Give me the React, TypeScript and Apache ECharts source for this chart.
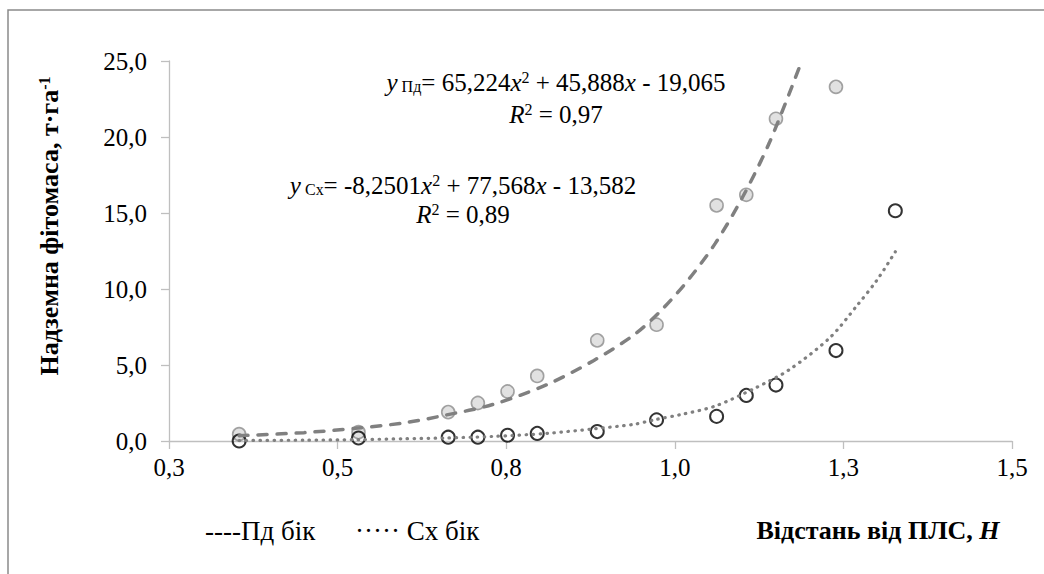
import React, { useEffect, useRef } from "react";
import * as echarts from "echarts";

// ---- data ----
const xTickLabels = ["0,3", "0,5", "0,8", "1,0", "1,3", "1,5"];
const yTickLabels = ["0,0", "5,0", "10,0", "15,0", "20,0", "25,0"];

const pdX = [0.354, 0.531, 0.664, 0.708, 0.752, 0.796, 0.885, 0.973, 1.062, 1.106, 1.15, 1.239];
const pdY = [0.45, 0.58, 1.9, 2.5, 3.26, 4.28, 6.62, 7.65, 15.5, 16.2, 21.2, 23.3];

const sxX = [0.354, 0.531, 0.664, 0.708, 0.752, 0.796, 0.885, 0.973, 1.062, 1.106, 1.15, 1.239, 1.327];
const sxY = [0.0, 0.2, 0.25, 0.25, 0.38, 0.5, 0.62, 1.39, 1.62, 3.0, 3.68, 5.95, 15.15];

// trend curves
const trendPdX = [0.354, 0.45, 0.53, 0.6, 0.66, 0.73, 0.81, 0.88, 0.94, 0.98, 1.02, 1.06, 1.1, 1.14, 1.184];
const trendPdY = [0.35, 0.55, 0.85, 1.2, 1.7, 2.4, 3.7, 5.3, 7.0, 8.6, 10.6, 13.0, 16.0, 19.6, 24.5];

const trendSxX = [0.354, 0.45, 0.53, 0.6, 0.66, 0.73, 0.81, 0.88, 0.94, 0.97, 1.01, 1.06, 1.12, 1.17, 1.23, 1.27, 1.3, 1.327];
const trendSxY = [0.03, 0.055, 0.09, 0.15, 0.2, 0.3, 0.5, 0.8, 1.1, 1.4, 1.75, 2.3, 3.5, 4.7, 6.8, 8.9, 10.6, 12.45];

const eqPd = { coef: "65,224", lin: "45,888", c: "19,065", sign1: "+", sub: "Пд", r2: "0,97" };
const eqSx = { coef: "-8,2501", lin: "77,568", c: "13,582", sign1: "+", sub: "Сх", r2: "0,89" };

const FONT = "Liberation Serif, Times New Roman, Tinos, DejaVu Serif, serif";

const zip = (xs: number[], ys: number[]) => xs.map((x, i) => [x, ys[i]]);

function eqRich(e: typeof eqPd) {
  return `{i|y}{sub| ${e.sub}}{n|= ${e.coef}}{i|x}{sup|2}{n| ${e.sign1} ${e.lin}}{i|x}{n| - ${e.c}}`;
}

export default function App() {
  const ref = useRef<HTMLDivElement>(null);
  useEffect(() => {
    if (!ref.current) return;
    const chart = echarts.init(ref.current, undefined, { renderer: "svg" });
    const EQ = 25;
    const eqStyleRich = {
      n: { fontFamily: FONT, fontSize: EQ, fontWeight: "normal", color: "#000", verticalAlign: "bottom" },
      i: { fontFamily: FONT, fontSize: EQ, fontWeight: "normal", fontStyle: "italic", color: "#000", verticalAlign: "bottom" },
      sub: { fontFamily: FONT, fontSize: 16, fontWeight: "normal", color: "#000", verticalAlign: "bottom" },
      sup: { fontFamily: FONT, fontSize: 16, fontWeight: "normal", color: "#000", verticalAlign: "top" },
    };
    const r2Rich = {
      i: { fontFamily: FONT, fontSize: EQ, fontWeight: "normal", fontStyle: "italic", color: "#000", verticalAlign: "bottom" },
      sup: { fontFamily: FONT, fontSize: 16, fontWeight: "normal", color: "#000", verticalAlign: "top" },
      n: { fontFamily: FONT, fontSize: EQ, fontWeight: "normal", color: "#000", verticalAlign: "bottom" },
    };
    chart.setOption({
      animation: false,
      backgroundColor: "#fff",
      textStyle: { fontFamily: FONT },
      grid: { left: 169, right: 32, top: 61, bottom: 133, containLabel: false },
      xAxis: {
        type: "value",
        min: 0.25,
        max: 1.5,
        interval: 0.25,
        splitLine: { show: false },
        axisLine: { show: true, lineStyle: { color: "#bfbfbf", width: 1.3 } },
        axisTick: { show: true, length: 8, lineStyle: { color: "#bfbfbf", width: 1.3 } },
        axisLabel: {
          margin: 14,
          color: "#000",
          fontFamily: FONT,
          fontWeight: "normal",
          fontSize: 25,
          formatter: (v: number) => xTickLabels[Math.round((v - 0.25) / 0.25)] ?? "",
        },
      },
      yAxis: {
        type: "value",
        min: 0,
        max: 25,
        interval: 5,
        splitLine: { show: false },
        axisLine: { show: true, lineStyle: { color: "#bfbfbf", width: 1.3 } },
        axisTick: { show: true, length: 8, lineStyle: { color: "#bfbfbf", width: 1.3 } },
        axisLabel: {
          margin: 22,
          color: "#000",
          fontFamily: FONT,
          fontWeight: "normal",
          fontSize: 25,
          formatter: (v: number) => yTickLabels[Math.round(v / 5)] ?? "",
        },
      },
      series: [
        {
          name: "Пд бік",
          type: "scatter",
          data: zip(pdX, pdY),
          symbol: "circle",
          symbolSize: 13,
          itemStyle: { color: "#d9d9d9", borderColor: "#8c8c8c", borderWidth: 1.6 },
          z: 2,
        },
        {
          name: "Сх бік",
          type: "scatter",
          data: zip(sxX, sxY),
          symbol: "circle",
          symbolSize: 13,
          itemStyle: { color: "rgba(0,0,0,0)", borderColor: "#000", borderWidth: 2 },
          z: 2,
        },
        {
          name: "trend Пд",
          type: "line",
          data: zip(trendPdX, trendPdY),
          showSymbol: false,
          smooth: 0.3,
          lineStyle: { color: "#808080", width: 3.5, type: [9, 10], cap: "round" },
          z: 3,
        },
        {
          name: "trend Сх",
          type: "line",
          data: zip(trendSxX, trendSxY),
          showSymbol: false,
          smooth: 0.3,
          lineStyle: { color: "#808080", width: 3.2, type: [0.5, 6.5], cap: "round" },
          z: 3,
        },
      ],
      graphic: [
        {
          type: "rect",
          shape: { x: 8, y: 10, width: 1100, height: 600 },
          style: { fill: "none", stroke: "#8a8a8a", lineWidth: 1.5 },
          silent: true,
          z: -1,
        },
        {
          type: "text",
          x: 556,
          y: 82,
          style: { text: eqRich(eqPd), rich: eqStyleRich, align: "center", verticalAlign: "middle" },
        },
        {
          type: "text",
          x: 556,
          y: 114,
          style: { text: `{i|R}{sup|2}{n| = ${eqPd.r2}}`, rich: r2Rich, align: "center", verticalAlign: "middle" },
        },
        {
          type: "text",
          x: 463,
          y: 185,
          style: { text: eqRich(eqSx), rich: eqStyleRich, align: "center", verticalAlign: "middle" },
        },
        {
          type: "text",
          x: 463,
          y: 214,
          style: { text: `{i|R}{sup|2}{n| = ${eqSx.r2}}`, rich: r2Rich, align: "center", verticalAlign: "middle" },
        },
        {
          type: "text",
          x: 49,
          y: 226,
          rotation: Math.PI / 2,
          style: {
            text: "{b|Надземна фітомаса, т·га}{s|-1}",
            rich: {
              b: { fontFamily: FONT, fontSize: 26, fontWeight: "bold", color: "#000", verticalAlign: "bottom" },
              s: { fontFamily: FONT, fontSize: 16, fontWeight: "bold", color: "#000", verticalAlign: "top" },
            },
            align: "center",
            verticalAlign: "middle",
          },
        },
        {
          type: "text",
          x: 878,
          y: 530,
          style: {
            text: "{b|Відстань від ПЛС, }{bi|H}",
            rich: {
              b: { fontFamily: FONT, fontSize: 26, fontWeight: "bold", color: "#000" },
              bi: { fontFamily: FONT, fontSize: 26, fontWeight: "bold", fontStyle: "italic", color: "#000" },
            },
            align: "center",
            verticalAlign: "middle",
          },
        },
        {
          type: "text",
          x: 205,
          y: 531,
          style: { text: "----Пд бік", fontFamily: FONT, fontWeight: "normal", fontSize: 27, fill: "#000", align: "left", verticalAlign: "middle" },
        },
        {
          type: "text",
          x: 355,
          y: 531,
          style: { text: "····· Сх бік", fontFamily: FONT, fontWeight: "normal", fontSize: 27, fill: "#000", align: "left", verticalAlign: "middle" },
        },
      ],
    });
    return () => chart.dispose();
  }, []);
  return <div ref={ref} style={{ position: "absolute", left: 0, top: 0, width: 1044, height: 574 }} />;
}
